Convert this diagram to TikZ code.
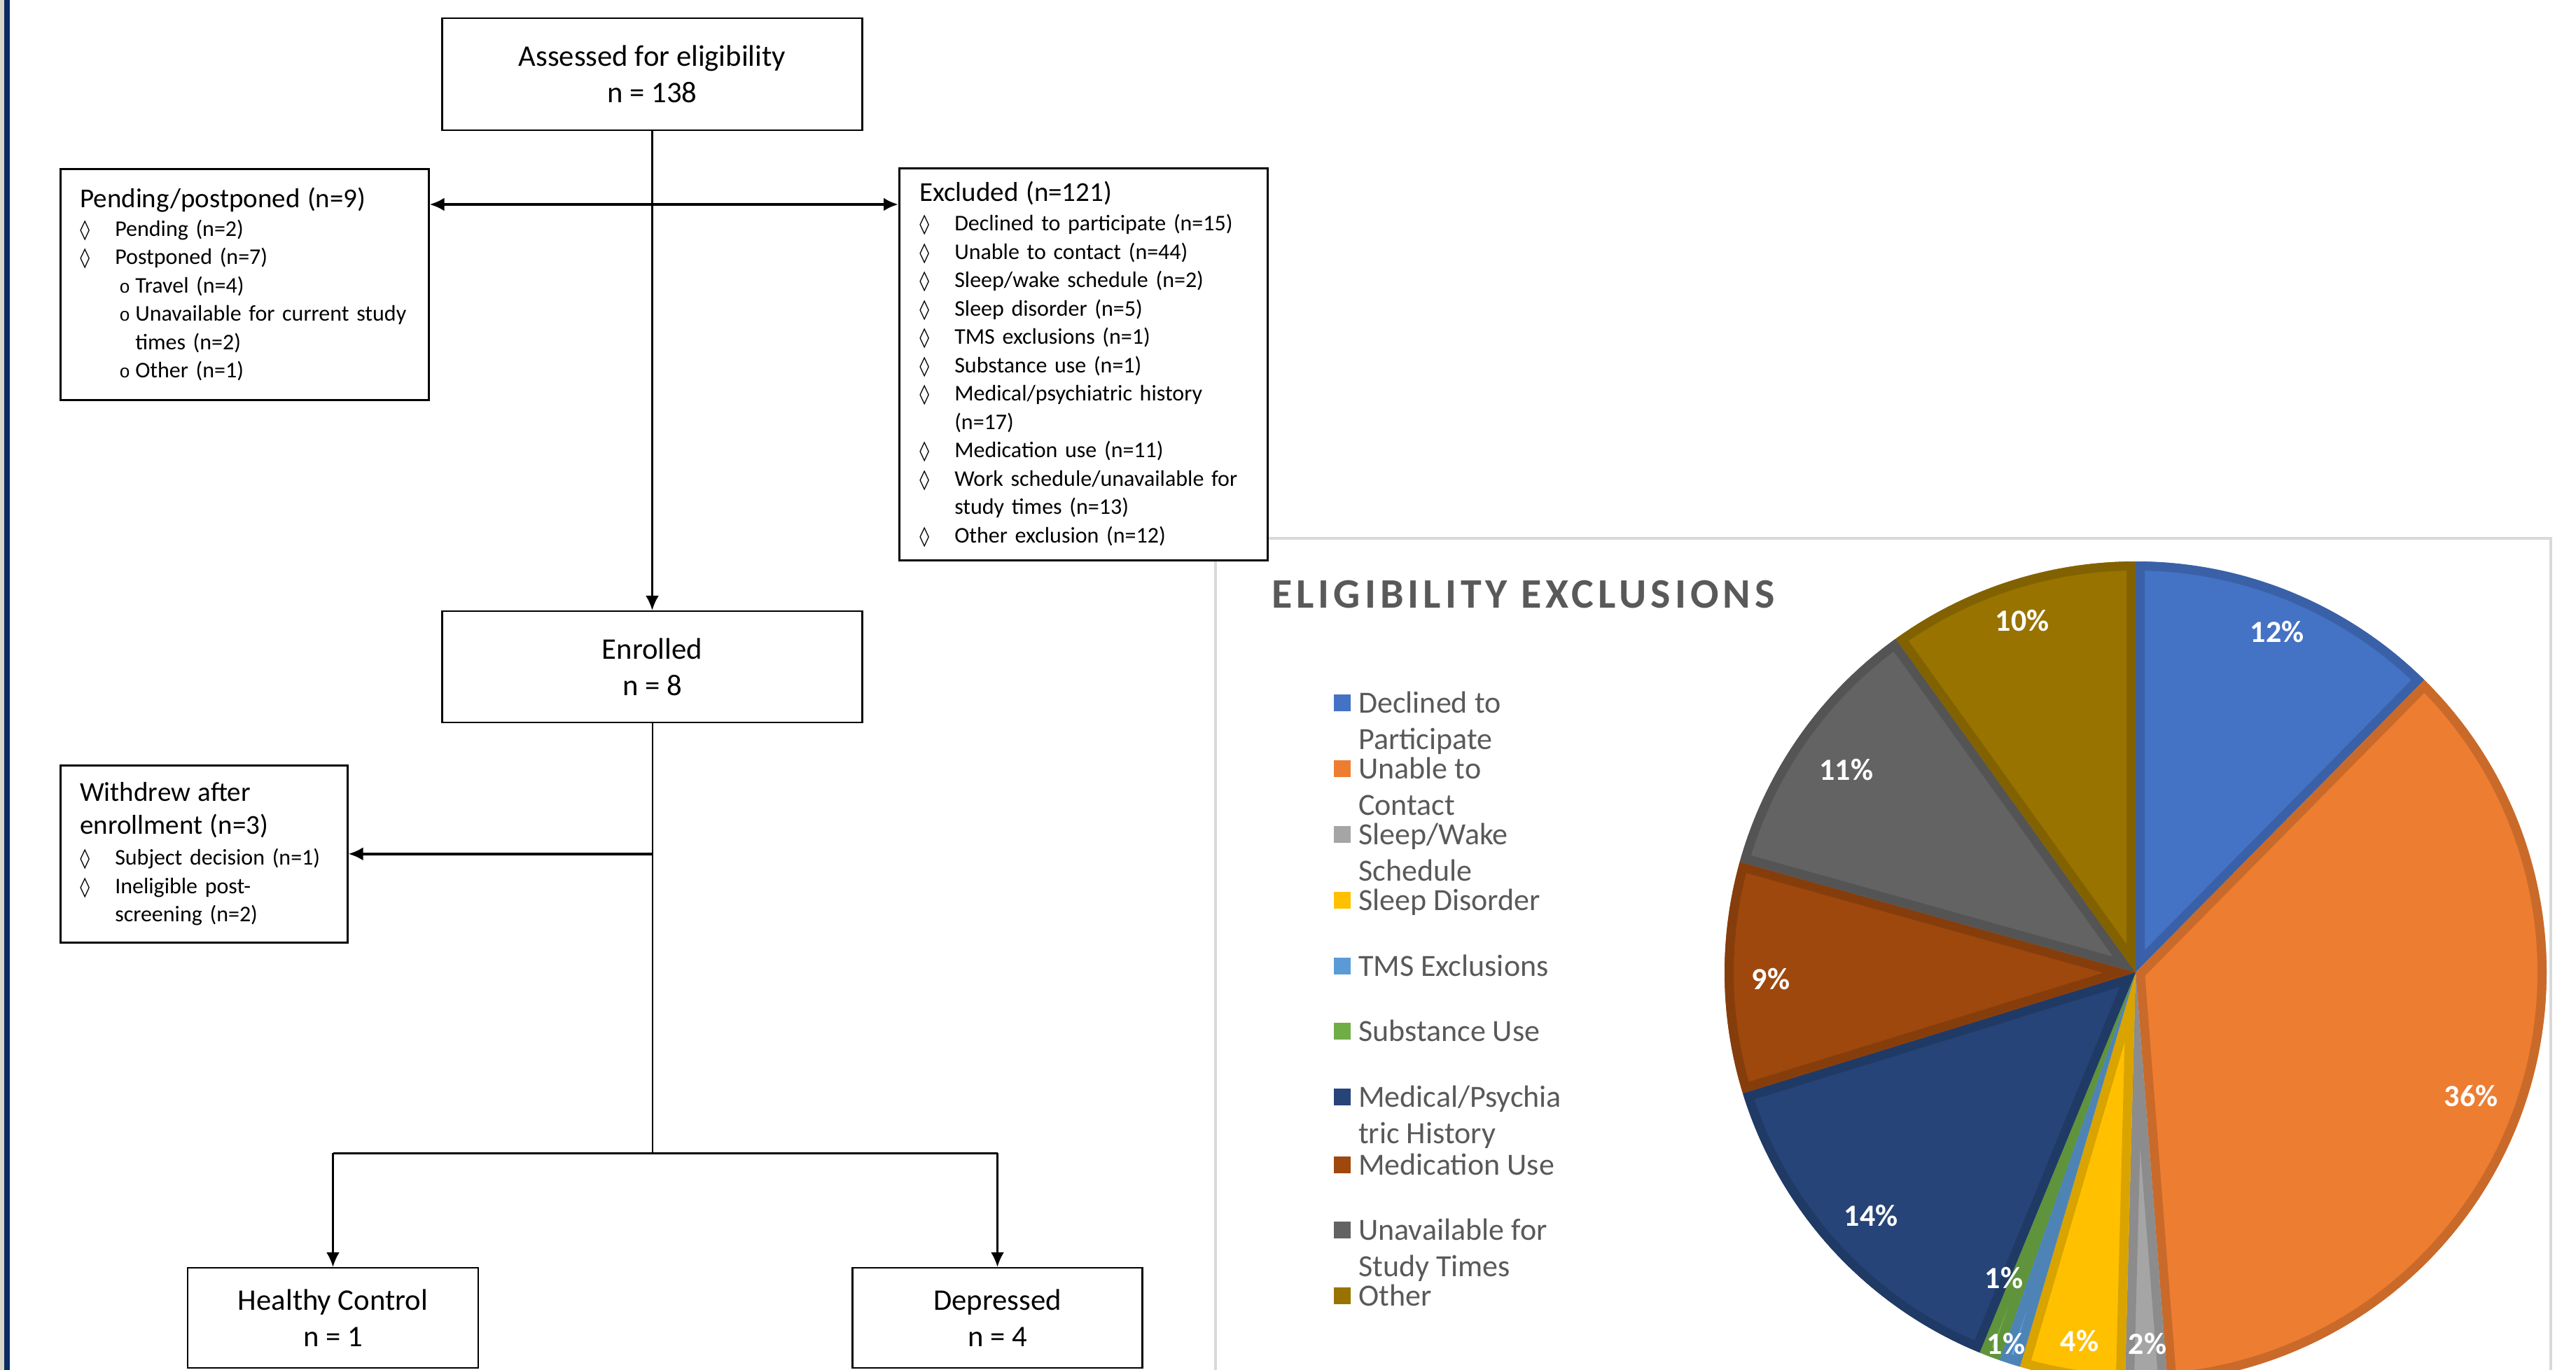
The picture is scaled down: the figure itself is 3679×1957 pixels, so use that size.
\documentclass[tikz,border=0pt]{standalone}
\usepackage{fontspec}
\setmainfont{Carlito}
\newfontfamily\dmdfont{DejaVu Sans}
\newfontfamily\monofnt{Liberation Mono}
\usepackage{tikz}
\usetikzlibrary{arrows.meta}
\definecolor{navyedge}{HTML}{0B2A63}
\definecolor{beigeedge}{HTML}{D8D5C6}
\definecolor{framegray}{HTML}{D9D9D9}
\definecolor{txtgray}{HTML}{595959}
\definecolor{cDecl}{HTML}{4472C4}
\definecolor{cUnab}{HTML}{ED7D31}
\definecolor{cSlWk}{HTML}{A5A5A5}
\definecolor{cSlDs}{HTML}{FFC000}
\definecolor{cTms}{HTML}{5B9BD5}
\definecolor{cSubs}{HTML}{70AD47}
\definecolor{cMedH}{HTML}{264478}
\definecolor{cMedU}{HTML}{9E480E}
\definecolor{cUnav}{HTML}{636363}
\definecolor{cOthr}{HTML}{997300}
\newcommand{\dmd}{{\dmdfont\fontsize{28}{28}\selectfont ◊}}
\newcommand{\itm}[1]{\makebox[50pt][l]{\dmd}#1}
\newcommand{\sitm}[1]{\hspace*{56pt}\makebox[23pt][l]{\monofnt\fontsize{26}{26}\selectfont o}#1}
\newcommand{\hd}{\fontsize{39}{47}\selectfont}
\tikzset{
  box_main/.style = {draw=black, line width=2.5pt, fill=white, align=center,
    inner sep=0pt, font=\fontsize{42.7}{52}\selectfont},% centred box
  box_list/.style = {draw=black, line width=2.5pt, fill=white, align=left,
    anchor=north west, inner xsep=28pt, inner ysep=0pt,
    font=\fontsize{32}{40.5}\selectfont},% box with a list
  ln_thin/.style = {line width=2.5pt},
  ln_thick/.style = {line width=4pt},
  pie_lbl/.style = {text=white, inner sep=0pt, font=\bfseries\fontsize{44}{44}\selectfont},
  leg_txt/.style = {text=txtgray, anchor=north west, align=left, inner sep=0pt,
    font=\fontsize{44}{52}\selectfont}
}

\begin{document}
\begin{tikzpicture}[x=1pt,y=-1pt,>={Latex[length=21pt,width=19pt]}]
\useasboundingbox (0,0) rectangle (3679,1957);
\clip (0,0) rectangle (3679,1957);
\fill[beigeedge] (0,0) rectangle (6,1957);
\fill[navyedge] (6,0) rectangle (14,1957);
% chart frame
\draw[framegray, line width=4.5pt] (1736,1995) -- (1736,769) -- (3643,769) -- (3643,1995);

% flow chart
\node [box_main, minimum width=600pt, minimum height=160pt] (assess) at (931.5,106)
  {Assessed for eligibility\\ n = 138};
\node [box_list, minimum width=526pt, minimum height=330pt, text width=470pt] (pending) at (85,240)
  {{\hd Pending/postponed (n=9)}\\[0pt]
   \itm{Pending (n=2)}\\
   \itm{Postponed (n=7)}\\
   \sitm{Travel (n=4)}\\
   \sitm{Unavailable for current study}\\
   \hspace*{79pt}times (n=2)\\
   \sitm{Other (n=1)}};
\node [box_list, minimum width=526pt, minimum height=560pt, text width=468pt, inner xsep=29pt] (excluded) at (1283,239)
  {{\hd Excluded (n=121)}\\[2pt]
   \itm{Declined to participate (n=15)}\\
   \itm{Unable to contact (n=44)}\\
   \itm{Sleep/wake schedule (n=2)}\\
   \itm{Sleep disorder (n=5)}\\
   \itm{TMS exclusions (n=1)}\\
   \itm{Substance use (n=1)}\\
   \itm{Medical/psychiatric history}\\
   \hspace*{50pt}(n=17)\\
   \itm{Medication use (n=11)}\\
   \itm{Work schedule/unavailable for}\\
   \hspace*{50pt}study times (n=13)\\
   \itm{Other exclusion (n=12)}};
\node [box_main, minimum width=600pt, minimum height=159pt] (enrol) at (931.5,952.5)
  {Enrolled\\ n = 8};
\node [box_list, minimum width=410pt, minimum height=253pt, text width=354pt] (withdrew) at (85,1092)
  {{\hd Withdrew after}\\[6.5pt]
   {\hd enrollment (n=3)}\\[4pt]
   \itm{Subject decision (n=1)}\\
   \itm{Ineligible post-}\\
   \hspace*{50pt}screening (n=2)};
\node [box_main, minimum width=415pt, minimum height=143pt] (healthy) at (475.5,1882.5)
  {Healthy Control\\ n = 1};
\node [box_main, minimum width=414pt, minimum height=143pt] (depressed) at (1424.5,1882.5)
  {Depressed\\ n = 4};

\coordinate (hy) at (0,292);
\coordinate (forky) at (0,1647);
\coordinate (forkL) at (healthy.north |- forky);
\coordinate (forkR) at (depressed.north |- forky);
\draw [ln_thin,->] (assess.south) -- (enrol.north);
\draw [ln_thick,<->] (pending.east |- hy) -- (excluded.west |- hy);
\draw [line width=2pt] (enrol.south) -- (enrol.south |- forky);
\draw [ln_thick,->] (enrol.south |- withdrew.east) -- (withdrew.east);
\draw [line width=3pt] (forkL) -- (forkR);
\draw [ln_thin,->] (forkL) -- (healthy.north);
\draw [ln_thin,->] (forkR) -- (depressed.north);

% pie chart
\node [anchor=west, inner sep=0pt, text=txtgray,
  font=\bfseries\fontsize{60}{60}\selectfont\addfontfeatures{LetterSpace=10}] (title) at (1816,849)
  {ELIGIBILITY EXCLUSIONS};
\begin{scope}[shift={(3050,1389)}, y=1pt]
\foreach \sa/\ea/\cc in {90/45.37/cDecl, 45.37/-85.54/cUnab, -85.54/-91.49/cSlWk,
    -91.49/-106.36/cSlDs, -106.36/-109.34/cTms, -109.34/-112.31/cSubs,
    -112.31/-162.89/cMedH, -162.89/-195.62/cMedU, -195.62/-234.30/cUnav, -234.30/-270/cOthr}{
  \fill[\cc] (0,0) -- (\sa:587pt) arc[start angle=\sa, end angle=\ea, radius=587pt] -- cycle;
  \begin{scope}
    \clip (0,0) -- (\sa:587pt) arc[start angle=\sa, end angle=\ea, radius=587pt] -- cycle;
    \draw[\cc!85!black, line width=26pt, line join=round]
      (0,0) -- (\sa:587pt) arc[start angle=\sa, end angle=\ea, radius=587pt] -- cycle;
  \end{scope}
}
\end{scope}
\node [pie_lbl] (p_decl) at (3252,903) {12\%};
\node [pie_lbl] (p_unab) at (3529,1565) {36\%};
\node [pie_lbl] (p_slwk) at (3067,1919) {2\%};
\node [pie_lbl] (p_slds) at (2970,1915) {4\%};
\node [pie_lbl] (p_tms) at (2865,1919) {1\%};
\node [pie_lbl] (p_subs) at (2862,1825) {1\%};
\node [pie_lbl] (p_medh) at (2672,1736) {14\%};
\node [pie_lbl] (p_medu) at (2529,1398) {9\%};
\node [pie_lbl] (p_unav) at (2637,1100) {11\%};
\node [pie_lbl] (p_othr) at (2888,887) {10\%};

% legend
\foreach \yy/\cc/\lbl [count=\k] in {1004/cDecl/{Declined to\\Participate}, 1098/cUnab/{Unable to\\Contact},
    1192/cSlWk/{Sleep/Wake\\Schedule}, 1286/cSlDs/{Sleep Disorder}, 1380/cTms/{TMS Exclusions},
    1473/cSubs/{Substance Use}, 1567/cMedH/{Medical/Psychia\\tric History}, 1664/cMedU/{Medication Use},
    1757/cUnav/{Unavailable for\\Study Times}, 1851/cOthr/{Other}}{
  \fill[\cc] (1905,\yy-12) rectangle (1929,\yy+12);
  \node [leg_txt] (leg\k) at (1940,\yy-22) {\strut\lbl};
}
\end{tikzpicture}
\end{document}
